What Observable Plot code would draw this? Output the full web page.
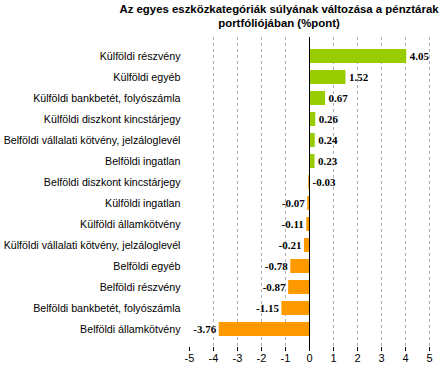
<!DOCTYPE html>
<html><head><meta charset="utf-8">
<script src="https://cdn.jsdelivr.net/npm/d3@7"></script>
<script src="https://cdn.jsdelivr.net/npm/@observablehq/plot@0.6"></script>
<style>
body{margin:0;background:#fff;font-family:"Liberation Sans",Arial,sans-serif;}
#title{position:relative;height:34px;}
#title div{position:absolute;left:104px;width:350px;top:2px;text-align:center;font-weight:bold;font-size:11.4px;line-height:14px;color:#000;}
</style></head><body>
<div id="title"><div>Az egyes eszközkategóriák súlyának változása a pénztárak<br>portfóliójában (%pont)</div></div>
<div id="chart"></div>
<script>
const categories = ["Külföldi részvény","Külföldi egyéb","Külföldi bankbetét, folyószámla","Külföldi diszkont kincstárjegy","Belföldi vállalati kötvény, jelzáloglevél","Belföldi ingatlan","Belföldi diszkont kincstárjegy","Külföldi ingatlan","Külföldi államkötvény","Külföldi vállalati kötvény, jelzáloglevél","Belföldi egyéb","Belföldi részvény","Belföldi bankbetét, folyószámla","Belföldi államkötvény"];
const values = [4.05,1.52,0.67,0.26,0.24,0.23,-0.03,-0.07,-0.11,-0.21,-0.78,-0.87,-1.15,-3.76];
const xTicks = [-5,-4,-3,-2,-1,0,1,2,3,4,5];
const data = categories.map((c,i)=>({cat:c,val:values[i]}));
// labels of tiny negative bars sit right of the zero line, as in the original
const right = data.filter(d=>d.val>=-0.05), left = data.filter(d=>d.val<-0.05);
const serif = "'Liberation Serif','Times New Roman',serif";
const chart = Plot.plot({
  width:444, height:338,
  marginLeft:189, marginRight:15, marginTop:3, marginBottom:25,
  style:{fontFamily:"'Liberation Sans',Arial,sans-serif",fontSize:"11px",color:"#000",background:"#fff"},
  x:{domain:[-5,5],ticks:xTicks,label:null},
  y:{domain:categories,label:null,padding:0.35},
  marks:[
    Plot.ruleX(xTicks.filter(t=>t!==-5 && t!==0),{stroke:"#b0b0b0",strokeDasharray:"3,3"}),
    Plot.barX(data,{y:"cat",x:"val",fill:d=>d.val>=0?"#99CC00":"#FF9900"}),
    Plot.ruleX([0],{stroke:"#000",strokeWidth:1}),
    Plot.ruleY([0],{frameAnchor:"bottom"}),
    Plot.axisX({ticks:xTicks,tickSize:4,tickPadding:3,tickFormat:d=>String(d),stroke:"#000",fontSize:11}),
    Plot.axisY({tickSize:0,tickPadding:9,fontSize:10.7}),
    Plot.text(right,{y:"cat",x:d=>Math.max(d.val,0),text:d=>d.val.toFixed(2),textAnchor:"start",dx:3,fontFamily:serif,fontWeight:"bold",fontSize:11}),
    Plot.text(left,{y:"cat",x:"val",text:d=>d.val.toFixed(2),textAnchor:"end",dx:-3,fontFamily:serif,fontWeight:"bold",fontSize:11})
  ]
});
document.getElementById("chart").appendChild(chart);
</script>
</body></html>
